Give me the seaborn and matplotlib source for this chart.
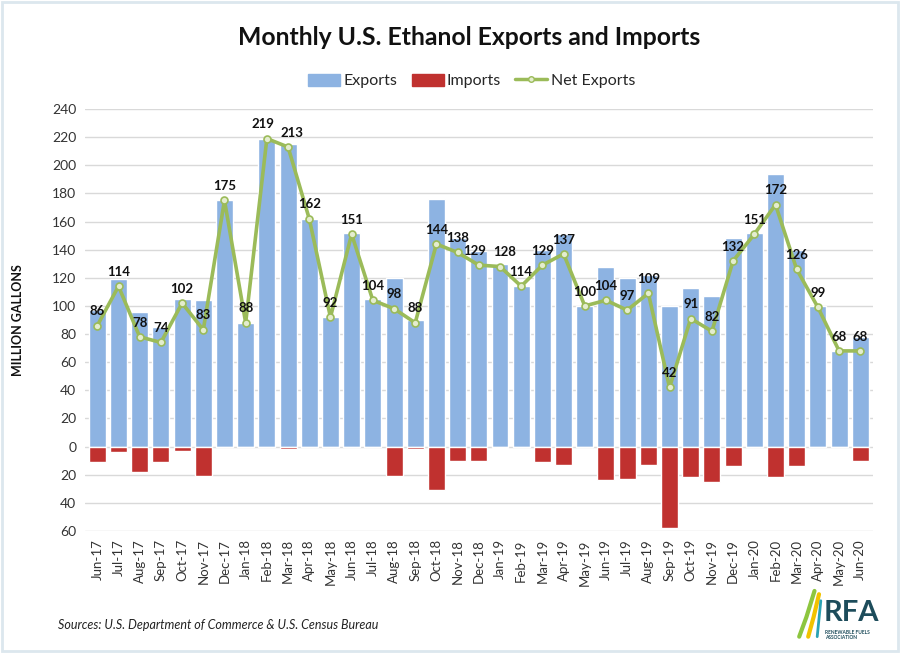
import matplotlib
matplotlib.use("Agg")
import matplotlib.pyplot as plt
import matplotlib.patches as mpatches
from matplotlib.lines import Line2D
import pandas as pd
import seaborn as sns

months = ['Jun-17', 'Jul-17', 'Aug-17', 'Sep-17', 'Oct-17', 'Nov-17', 'Dec-17',
          'Jan-18', 'Feb-18', 'Mar-18', 'Apr-18', 'May-18', 'Jun-18', 'Jul-18',
          'Aug-18', 'Sep-18', 'Oct-18', 'Nov-18', 'Dec-18', 'Jan-19', 'Feb-19',
          'Mar-19', 'Apr-19', 'May-19', 'Jun-19', 'Jul-19', 'Aug-19', 'Sep-19',
          'Oct-19', 'Nov-19', 'Dec-19', 'Jan-20', 'Feb-20', 'Mar-20', 'Apr-20',
          'May-20', 'Jun-20']
exports = [97, 119, 96, 85, 105, 104, 175, 88, 219, 215, 162, 92, 152, 105,
           120, 90, 176, 148, 139, 130, 114, 140, 151, 100, 128, 120, 122, 100,
           113, 107, 148, 152, 194, 140, 100, 68, 78]
imports = [11, 4, 18, 11, 3, 21, 0, 0, 0, 2, 0, 0, 0, 0, 21, 2, 31, 10, 10, 1,
           0, 11, 13, 0, 24, 23, 13, 58, 22, 25, 14, 0, 22, 14, 0, 0, 10]
net_exports = [86, 114, 78, 74, 102, 83, 175, 88, 219, 213, 162, 92, 151, 104,
               98, 88, 144, 138, 129, 128, 114, 129, 137, 100, 104, 97, 109, 42,
               91, 82, 132, 151, 172, 126, 99, 68, 68]
y_ticks = [-60, -40, -20, 0, 20, 40, 60, 80, 100, 120, 140, 160, 180, 200, 220, 240]

df = pd.DataFrame({'month': months, 'exports': exports,
                   'imports': [-v for v in imports], 'net': net_exports})

sns.set_style("white")
plt.rcParams['font.family'] = ['Lato', 'DejaVu Sans']

blue = '#8DB3E2'
red = '#C0312F'
green = '#9BBB59'

fig = plt.figure(figsize=(9, 6.53), dpi=100)
ax = fig.add_axes([0.094, 0.187, 0.876, 0.646])

sns.barplot(data=df, x='month', y='exports', color=blue, saturation=1,
            width=0.8, ax=ax, zorder=2)
sns.barplot(data=df, x='month', y='imports', color=red, saturation=1,
            width=0.8, ax=ax, zorder=2)
sns.pointplot(data=df, x='month', y='net', color=green, markers='o',
              linewidth=2.6, markersize=5, ax=ax,
              markerfacecolor='#E4EDCF', markeredgecolor=green,
              markeredgewidth=1.2, zorder=4)

for i, v in enumerate(net_exports):
    dx = 0
    if months[i] in ('Feb-18', 'Dec-18'):
        dx = -3
    elif months[i] in ('Mar-18', 'Jan-19'):
        dx = 3
    ax.annotate(str(v), (i, v), xytext=(dx, 6), textcoords='offset points',
                ha='center', va='bottom', fontsize=9.5, fontweight='bold',
                color='#111111', zorder=5)

ax.set_ylim(-60, 240)
ax.set_xlim(-0.6, len(months) - 0.4)
ax.set_yticks(y_ticks)
ax.set_yticklabels([str(abs(t)) for t in y_ticks], fontsize=10, color='#333333')
ax.tick_params(axis='x', labelrotation=90, labelsize=9.5, labelcolor='#333333')
ax.tick_params(length=0, pad=6)
ax.grid(axis='y', color='#D9D9D9', linewidth=1)
ax.set_axisbelow(True)
for s in ax.spines.values():
    s.set_visible(False)
ax.set_xlabel('')
ax.set_ylabel('')

fig.text(0.02, 0.51, 'MILLION GALLONS', rotation=90, ha='center', va='center',
         fontsize=9, fontweight='bold', color='#111111')
fig.text(0.521, 0.942, 'Monthly U.S. Ethanol Exports and Imports', ha='center',
         va='center', fontsize=17.8, fontweight='bold', color='#111111')

handles = [mpatches.Patch(color=blue, label='Exports'),
           mpatches.Patch(color=red, label='Imports'),
           Line2D([], [], color=green, lw=2.5, marker='o', markersize=4,
                  markerfacecolor='#E4EDCF', markeredgecolor=green,
                  label='Net Exports')]
fig.legend(handles=handles, loc='center', bbox_to_anchor=(0.524, 0.876),
           ncol=3, frameon=False, fontsize=11.5, handlelength=2.0,
           handleheight=0.8, columnspacing=0.9, handletextpad=0.2)

fig.text(0.064, 0.043, 'Sources: U.S. Department of Commerce & U.S. Census Bureau',
         ha='left', va='center', fontsize=9, fontstyle='italic', color='#222222')

# RFA logo (text approximation)
fig.lines.append(Line2D([0.888, 0.896, 0.905], [0.025, 0.055, 0.095],
                        transform=fig.transFigure, color='#8DC63F', lw=3))
fig.lines.append(Line2D([0.898, 0.904, 0.910], [0.025, 0.055, 0.090],
                        transform=fig.transFigure, color='#F2C200', lw=3))
fig.lines.append(Line2D([0.908, 0.912], [0.025, 0.080],
                        transform=fig.transFigure, color='#2BA3B5', lw=2))
fig.text(0.915, 0.062, 'RFA', ha='left', va='center', fontsize=21,
         fontweight='bold', color='#1D4C5B')
fig.text(0.917, 0.028, 'RENEWABLE FUELS\nASSOCIATION', ha='left', va='center',
         fontsize=3.5, fontweight='bold', color='#1D4C5B', linespacing=1.1)

fig.patches.append(mpatches.Rectangle((0.002, 0.003), 0.996, 0.994, fill=False,
                                      edgecolor='#DCE7EE', lw=2,
                                      transform=fig.transFigure))

fig.savefig('out.png', dpi=100)
